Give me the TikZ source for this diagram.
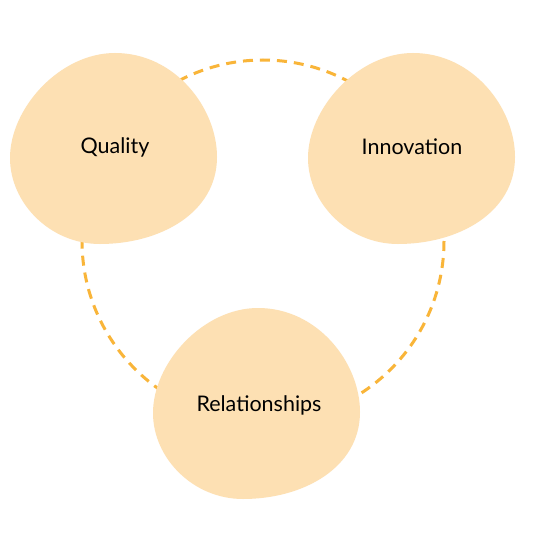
\documentclass[tikz,border=0pt]{standalone}
\usepackage{fontspec}
\setmainfont{Lato}
\definecolor{blobfill}{HTML}{FDE0B3}
\definecolor{dashcol}{HTML}{F9B539}
\tikzset{
  blob/.style={fill=blobfill},
  ring/.style={draw=dashcol, line width=3pt, dash pattern=on 10pt off 7pt},
  lbl/.style={font=\fontsize{21.5}{24}\selectfont, text=black},
}
\newcommand{\blobshape}[2]{%
  \path[blob, shift={(#1,#2)}] (105,0) .. controls (165,0) and (207,55) .. (207,104)
    .. controls (207,160) and (150,191) .. (90,191)
    .. controls (40,191) and (0,150) .. (0,105)
    .. controls (0,55) and (50,0) .. (105,0) -- cycle;%
}
\begin{document}
\begin{tikzpicture}[x=1pt,y=-1pt]
\useasboundingbox (0,0) rectangle (540,540);
\fill[white] (0,0) rectangle (540,540);
\coordinate (c) at (263,241);
\draw[ring] (c) circle[radius=181];
\blobshape{10}{53}
\blobshape{308}{53}
\blobshape{153}{308}
\node[lbl] (quality) at (115,147) {Quality};
\node[lbl] (innovation) at (412,147) {Innovation};
\node[lbl] (relationships) at (259,405) {Relationships};
\end{tikzpicture}
\end{document}
